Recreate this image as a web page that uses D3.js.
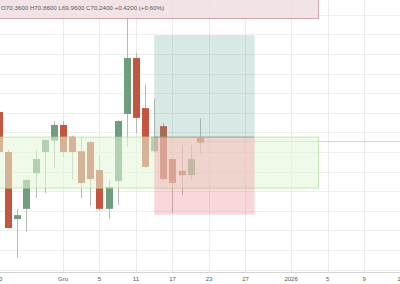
<!DOCTYPE html>
<html>
<head>
<meta charset="utf-8">
<script src="https://cdn.jsdelivr.net/npm/d3@7/dist/d3.min.js"></script>
<style>
  html, body { margin: 0; padding: 0; background: #fff; }
  svg { display: block; }
</style>
</head>
<body>
<div id="chart"></div>
<script>
// daily bars, 20 Nov – 22 Dec 2025 (bar index 1..23 on the time scale)
const DATES = ['2025-11-20','2025-11-21','2025-11-24','2025-11-25','2025-11-26','2025-11-27','2025-11-28',
  '2025-12-01','2025-12-02','2025-12-03','2025-12-04','2025-12-05','2025-12-08','2025-12-09','2025-12-10',
  '2025-12-11','2025-12-12','2025-12-15','2025-12-16','2025-12-17','2025-12-18','2025-12-19','2025-12-22'];
const OPEN  = [71.02, 70.00, 68.29, 68.55, 69.46, 70.00, 70.29, 70.69, 70.39, 70.02, 70.25, 69.54,
  68.55, 69.26, 70.97, 72.40, 71.12, 70.02, 70.66, 69.82, 69.52, 69.41, 70.36];
const HIGH  = [71.10, 70.05, 68.55, 69.29, 70.05, 70.31, 70.79, 70.79, 70.42, 70.39, 70.28, 69.92,
  69.29, 70.82, 73.45, 72.53, 71.71, 71.36, 70.74, 69.85, 70.18, 70.18, 70.86];
const LOW   = [69.98, 68.06, 67.30, 67.97, 68.83, 68.95, 69.59, 69.87, 69.29, 68.83, 68.62, 68.52,
  68.29, 68.65, 70.13, 70.48, 69.59, 70.00, 69.29, 68.44, 68.90, 69.29, 69.96];
const CLOSE = [70.00, 68.06, 68.39, 69.29, 69.82, 70.31, 70.69, 70.00, 70.00, 69.21, 69.31, 68.55,
  69.11, 70.79, 72.40, 70.87, 69.62, 70.39, 69.31, 69.21, 69.41, 69.82, 70.24];

// time axis labels (bar index incl. future bars)
const TICK_INDEX  = [1, 8, 12, 16, 20, 24, 28, 33, 37, 41, 45];
const TICK_LABELS = ['20', 'Gru', '5', '11', '17', '23', '27', '2026', '5', '9', '13'];

// drawings: support zone and long position (entry / target / stop)
const ZONE     = { from: -1, to: 36, top: 70.38, bottom: 69.08 };
const POSITION = { from: 18, to: 29, entry: 70.38, target: 72.98, stop: 68.40 };

const W = 400, H = 284;
const axisY = 272;

const x = d3.scaleLinear().domain([0, 45]).range([-10, 400.6]);
const y = d3.scaleLinear().domain([67, 73.5]).range([269.6, 14.8]);

const svg = d3.select('#chart').append('svg')
  .attr('width', W).attr('height', H)
  .attr('viewBox', `0 0 ${W} ${H}`);

// grid
svg.append('g').selectAll('line')
  .data(d3.range(67, 73.51, 0.5))
  .join('line')
  .attr('x1', 0).attr('x2', W)
  .attr('y1', d => Math.round(y(d)) + 0.5).attr('y2', d => Math.round(y(d)) + 0.5)
  .attr('stroke', '#eeeeee').attr('stroke-width', 1);
svg.append('g').selectAll('line')
  .data(TICK_INDEX)
  .join('line')
  .attr('x1', d => Math.round(x(d)) + 0.5).attr('x2', d => Math.round(x(d)) + 0.5)
  .attr('y1', 0).attr('y2', axisY)
  .attr('stroke', '#ebebeb').attr('stroke-width', 1);

// last price line
const last = CLOSE.length - 1;
svg.append('line')
  .attr('x1', x(last + 1)).attr('x2', W)
  .attr('y1', y(CLOSE[last]) - 1).attr('y2', y(CLOSE[last]) - 1)
  .attr('stroke', 'rgba(215,120,130,.4)').attr('stroke-width', 1);

// candles
const bars = DATES.map((d, i) => ({
  date: d, i: i + 1, o: OPEN[i], h: HIGH[i], l: LOW[i], c: CLOSE[i]
}));
const bw = 7;
const cg = svg.append('g');
cg.selectAll('line')
  .data(bars)
  .join('line')
  .attr('x1', d => Math.round(x(d.i)) + 0.5).attr('x2', d => Math.round(x(d.i)) + 0.5)
  .attr('y1', d => y(d.h)).attr('y2', d => y(d.l))
  .attr('stroke', '#b8b8b8').attr('stroke-width', 1);
cg.selectAll('rect')
  .data(bars)
  .join('rect')
  .attr('x', d => Math.round(x(d.i)) + 0.5 - bw / 2)
  .attr('width', bw)
  .attr('y', d => y(Math.max(d.o, d.c)))
  .attr('height', d => Math.max(1, Math.abs(y(d.o) - y(d.c))))
  .attr('fill', d => d.c >= d.o ? '#6f9d7e' : '#c4553f');

// support zone
svg.append('rect')
  .attr('x', x(ZONE.from)).attr('width', x(ZONE.to) - x(ZONE.from))
  .attr('y', y(ZONE.top)).attr('height', y(ZONE.bottom) - y(ZONE.top))
  .attr('fill', 'rgba(228,247,216,.58)')
  .attr('stroke', 'rgba(175,225,145,.7)').attr('stroke-width', 1);

// long position: target (teal) and stop (pink)
const px0 = x(POSITION.from), px1 = x(POSITION.to);
svg.append('rect')
  .attr('x', px0).attr('width', px1 - px0)
  .attr('y', y(POSITION.target)).attr('height', y(POSITION.entry) - y(POSITION.target))
  .attr('fill', 'rgba(95,165,150,.25)');
svg.append('rect')
  .attr('x', px0).attr('width', px1 - px0)
  .attr('y', y(POSITION.entry)).attr('height', y(POSITION.stop) - y(POSITION.entry))
  .attr('fill', 'rgba(236,125,140,.3)');
svg.append('line')
  .attr('x1', px0).attr('x2', px1)
  .attr('y1', y(POSITION.entry)).attr('y2', y(POSITION.entry))
  .attr('stroke', 'rgba(120,120,120,.45)').attr('stroke-width', 1);

// OHLC legend box
const lg = svg.append('g');
lg.append('rect')
  .attr('x', -2).attr('y', -2)
  .attr('width', x(ZONE.to) + 2).attr('height', 20.5)
  .attr('fill', 'rgba(240,222,226,.85)')
  .attr('stroke', 'rgba(205,160,166,.9)').attr('stroke-width', 1);
const lb = bars[last], prev = bars[last - 1];
const fmt = d3.format('.4f');
lg.append('text')
  .attr('x', 1).attr('y', 9.5)
  .attr('font-family', '"Liberation Sans", Arial, sans-serif')
  .attr('font-size', 6.2)
  .attr('fill', '#5a5a5a')
  .text(`O${fmt(lb.o)} H${fmt(lb.h)} L${fmt(lb.l)} C${fmt(lb.c)} ` +
    `+${fmt(lb.c - prev.c)} (+${d3.format('.2f')((lb.c - prev.c) / prev.c * 100)}%)`);

// time axis
svg.append('line')
  .attr('x1', 0).attr('x2', W)
  .attr('y1', axisY + 0.5).attr('y2', axisY + 0.5)
  .attr('stroke', '#d4d4d4').attr('stroke-width', 1.2);
svg.append('g').selectAll('text')
  .data(TICK_INDEX)
  .join('text')
  .attr('x', d => x(d)).attr('y', 281)
  .attr('text-anchor', 'middle')
  .attr('font-family', '"Liberation Sans", Arial, sans-serif')
  .attr('font-size', 6)
  .attr('fill', '#555')
  .text((d, i) => TICK_LABELS[i]);
</script>
</body>
</html>
